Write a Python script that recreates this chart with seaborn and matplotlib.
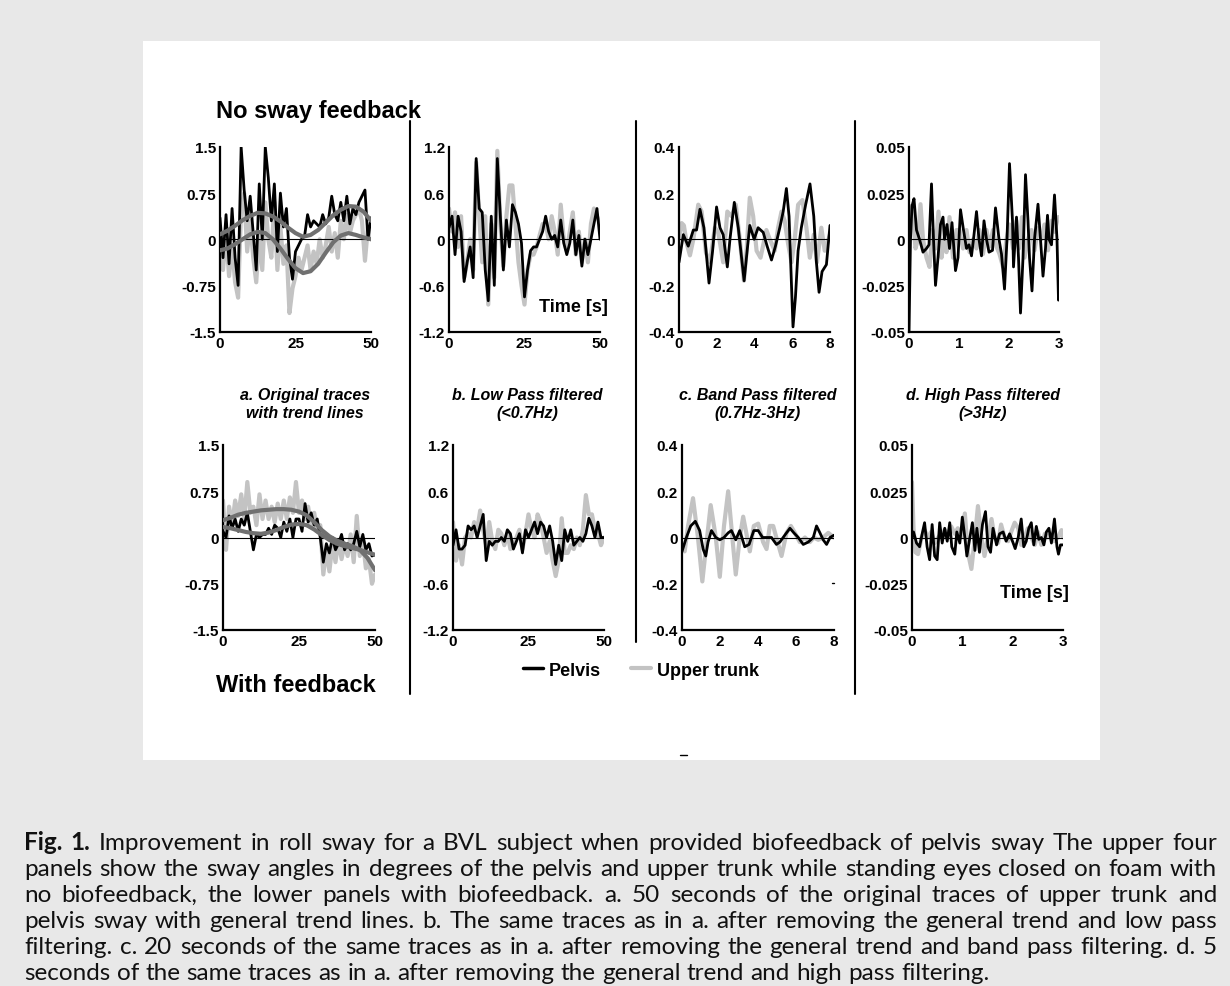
import matplotlib
matplotlib.use("Agg")
import matplotlib.pyplot as plt
import seaborn as sns
from matplotlib.patches import Rectangle
from matplotlib.lines import Line2D

# ---------------------------------------------------------------- data
# a. original traces, 50 s, sampled every second (degrees)
t_orig = [0, 1, 2, 3, 4, 5, 6, 7, 8, 9, 10, 11, 12, 13, 14, 15, 16, 17, 18, 19, 20,
          21, 22, 23, 24, 25, 26, 27, 28, 29, 30, 31, 32, 33, 34, 35, 36, 37, 38, 39,
          40, 41, 42, 43, 44, 45, 46, 47, 48, 49, 50]
a_nofb_pelvis = [0.35, -0.30, 0.40, -0.40, 0.50, -0.30, -0.75, 1.50, 0.80, 0.30, 0.70,
                 0.10, -0.50, 0.90, 0.00, 1.50, 1.00, 0.30, 0.90, -0.20, 0.75, 0.20, 0.50,
                 -0.30, -0.65, -0.20, -0.10, 0.00, 0.05, 0.40, 0.20, 0.30, 0.25, 0.20, 0.40,
                 0.25, 0.35, 0.70, 0.40, 0.30, 0.60, 0.30, 0.70, 0.25, 0.50, 0.40, 0.60,
                 0.70, 0.80, 0.00, 0.35]
a_nofb_upper = [-0.20, -0.50, 0.10, -0.60, -0.10, -0.70, -0.95, 0.50, 0.75, -0.20, 0.30,
                -0.30, -0.70, 0.10, -0.50, 0.60, 0.00, -0.30, 0.60, -0.50, 0.20, -0.40,
                -0.10, -1.20, -0.80, -0.60, -0.30, -0.50, -0.30, -0.10, -0.50, -0.20, -0.40,
                0.00, -0.30, -0.10, 0.20, -0.20, 0.10, -0.30, 0.30, 0.00, 0.40, 0.10, 0.30,
                0.40, 0.50, 0.30, -0.35, 0.20, 0.00]
a_fb_pelvis = [0.10, 0.00, 0.35, 0.15, 0.30, 0.10, 0.30, 0.20, 0.40, 0.10, -0.20, 0.05,
               0.00, 0.05, 0.05, 0.15, 0.05, 0.20, 0.15, 0.00, 0.25, 0.10, 0.30, 0.00, 0.30,
               0.30, 0.10, 0.55, 0.25, 0.40, 0.20, 0.30, 0.00, -0.40, -0.10, -0.25, 0.00,
               -0.20, -0.10, 0.05, -0.20, -0.10, -0.20, -0.10, 0.10, -0.15, 0.05, -0.20,
               -0.10, -0.30, -0.28]
a_fb_upper = [0.60, -0.20, 0.50, 0.20, 0.60, 0.35, 0.70, 0.30, 0.90, 0.40, 0.50, 0.20,
              0.70, 0.30, 0.60, 0.30, 0.50, 0.25, 0.55, 0.30, 0.60, 0.30, 0.65, 0.40, 0.90,
              0.40, 0.60, 0.30, 0.50, 0.20, 0.40, 0.10, 0.20, -0.60, -0.20, -0.55, -0.10,
              -0.40, -0.05, -0.35, -0.10, -0.30, 0.05, -0.40, 0.35, -0.30, -0.05, -0.50,
              -0.35, -0.75, -0.60]

# general trend lines, every 2.5 s
t_trend = [0, 2.5, 5, 7.5, 10, 12.5, 15, 17.5, 20, 22.5, 25, 27.5, 30, 32.5, 35, 37.5,
           40, 42.5, 45, 47.5, 50]
trend_nofb_pelvis = [0.08, 0.14, 0.22, 0.31, 0.38, 0.43, 0.42, 0.37, 0.29, 0.19, 0.10,
                     0.04, 0.07, 0.15, 0.27, 0.39, 0.48, 0.54, 0.53, 0.45, 0.30]
trend_nofb_upper = [-0.18, -0.15, -0.08, 0.00, 0.08, 0.12, 0.10, 0.00, -0.15, -0.32,
                    -0.47, -0.55, -0.52, -0.40, -0.22, -0.05, 0.06, 0.10, 0.07, 0.03, 0.00]
trend_fb_pelvis = [0.17, 0.15, 0.12, 0.09, 0.07, 0.06, 0.08, 0.12, 0.17, 0.21, 0.22, 0.20,
                   0.13, 0.04, -0.04, -0.10, -0.14, -0.17, -0.20, -0.24, -0.28]
trend_fb_upper = [0.28, 0.32, 0.37, 0.40, 0.42, 0.44, 0.45, 0.46, 0.46, 0.45, 0.42, 0.36,
                  0.25, 0.12, 0.02, -0.05, -0.10, -0.14, -0.20, -0.33, -0.53]

# b. low pass filtered (<0.7 Hz), 50 s
b_nofb_pelvis = [0.15, 0.30, -0.20, 0.30, 0.10, -0.55, -0.30, -0.10, -0.50, 1.05, 0.40,
                 0.35, -0.40, -0.80, 0.30, -0.60, 1.05, 0.30, -0.40, 0.25, -0.10, 0.45, 0.35,
                 0.20, -0.05, -0.75, -0.40, -0.15, -0.10, -0.10, 0.00, 0.10, 0.30, 0.10, 0.00,
                 0.05, -0.10, 0.25, -0.05, -0.20, -0.05, 0.25, -0.20, 0.05, -0.35, 0.00,
                 -0.20, 0.00, 0.20, 0.40, 0.00]
b_nofb_upper = [0.40, 0.10, 0.35, -0.10, 0.30, -0.50, -0.30, 0.00, -0.40, 1.00, 0.30,
                -0.30, 0.30, -0.85, 0.20, -0.50, 1.15, 0.20, -0.35, 0.30, 0.70, 0.70, 0.20,
                -0.30, -0.60, -0.85, -0.40, -0.20, -0.20, -0.10, 0.05, 0.20, 0.20, 0.00, 0.30,
                0.10, -0.20, 0.45, 0.00, -0.15, 0.10, 0.35, -0.20, 0.10, -0.30, 0.00, -0.30,
                0.20, 0.40, 0.30, 0.20]
b_fb_pelvis = [-0.10, 0.10, -0.15, -0.15, -0.10, 0.15, 0.10, 0.15, 0.00, 0.15, 0.30,
               -0.30, -0.05, -0.10, -0.05, -0.05, 0.00, -0.05, 0.10, 0.05, -0.15, -0.05,
               0.05, -0.20, 0.10, 0.00, 0.10, 0.20, 0.05, 0.20, 0.15, 0.00, 0.15, -0.05,
               -0.35, -0.10, -0.30, 0.10, -0.05, 0.10, -0.10, -0.05, 0.00, -0.05, 0.05,
               0.25, 0.15, 0.00, 0.20, 0.00, 0.00]
b_fb_upper = [0.20, -0.30, -0.10, -0.35, 0.00, 0.05, 0.00, 0.20, 0.10, 0.35, 0.10, -0.10,
              0.20, -0.05, -0.15, 0.10, 0.05, -0.10, 0.05, -0.15, -0.10, 0.00, 0.10, -0.15,
              0.05, 0.30, 0.10, 0.00, 0.30, 0.20, 0.00, -0.20, -0.05, -0.30, -0.50, -0.30,
              0.25, -0.20, -0.20, -0.10, -0.15, 0.00, -0.10, 0.10, 0.55, 0.30, 0.30, 0.10,
              0.05, -0.10, 0.00]

# c. band pass filtered (0.7-3 Hz), 8 s
c_nofb_pelvis_t = [0.00, 0.23, 0.49, 0.76, 0.93, 1.11, 1.32, 1.59, 1.78, 1.99, 2.17, 2.34,
                   2.56, 2.70, 2.93, 3.14, 3.45, 3.61, 3.75, 3.98, 4.19, 4.46, 4.67, 4.90,
                   5.11, 5.34, 5.52, 5.69, 5.83, 5.96, 6.04, 6.17, 6.31, 6.48, 6.71, 6.94,
                   7.14, 7.28, 7.42, 7.58, 7.81, 8.00]
c_nofb_pelvis = [-0.10, 0.02, -0.03, 0.04, 0.04, 0.13, 0.05, -0.19, -0.05, 0.14, 0.05,
                 0.02, -0.12, 0.00, 0.16, 0.05, -0.18, -0.05, 0.06, 0.00, 0.05, 0.03, -0.03,
                 -0.09, -0.03, 0.05, 0.12, 0.22, 0.10, -0.20, -0.38, -0.25, -0.05, 0.05,
                 0.15, 0.24, 0.10, -0.10, -0.23, -0.14, -0.11, 0.06]
c_nofb_upper_t = [0.00, 0.14, 0.26, 0.41, 0.58, 0.76, 1.02, 1.20, 1.43, 1.64, 1.90, 2.08,
                  2.34, 2.56, 2.78, 3.01, 3.22, 3.44, 3.58, 3.75, 3.93, 4.11, 4.32, 4.63,
                  4.81, 5.07, 5.25, 5.43, 5.60, 5.78, 5.96, 6.13, 6.31, 6.54, 6.75, 6.93,
                  7.14, 7.31, 7.54, 7.72, 8.00]
c_nofb_upper = [0.00, 0.07, 0.06, -0.02, -0.07, 0.00, 0.15, 0.12, -0.06, -0.10, 0.05,
                0.03, -0.10, 0.12, 0.10, 0.15, 0.00, -0.18, -0.05, 0.18, 0.10, -0.05, -0.08,
                0.04, 0.00, -0.05, 0.05, 0.12, 0.08, -0.02, -0.10, 0.00, 0.15, 0.17, 0.05,
                -0.08, 0.02, -0.10, 0.05, -0.05, 0.02]
c_fb_pelvis_t = [0.00, 0.23, 0.46, 0.70, 0.93, 1.11, 1.25, 1.37, 1.55, 1.78, 1.99, 2.21,
                 2.43, 2.60, 2.83, 3.04, 3.30, 3.53, 3.78, 4.01, 4.24, 4.48, 4.71, 4.97,
                 5.15, 5.41, 5.68, 5.89, 6.12, 6.38, 6.64, 6.91, 7.08, 7.26, 7.43, 7.61,
                 7.79, 8.00]
c_fb_pelvis = [-0.06, 0.00, 0.05, 0.07, 0.03, -0.05, -0.08, -0.02, 0.03, 0.00, -0.01,
               0.00, 0.02, 0.03, -0.01, 0.03, -0.04, -0.03, 0.03, 0.03, 0.00, 0.00, 0.00,
               -0.03, -0.02, 0.01, 0.04, 0.02, 0.00, -0.03, -0.02, 0.00, 0.05, 0.02, -0.01,
               -0.03, 0.00, 0.01]
c_fb_upper_t = [0.00, 0.14, 0.32, 0.58, 0.84, 1.07, 1.32, 1.51, 1.78, 1.99, 2.21, 2.43,
                2.65, 2.83, 3.04, 3.22, 3.43, 3.57, 3.78, 4.01, 4.27, 4.45, 4.62, 4.80,
                5.03, 5.24, 5.50, 5.73, 5.94, 6.20, 6.47, 6.73, 6.94, 7.17, 7.43, 7.70, 8.00]
c_fb_upper = [-0.05, -0.06, 0.05, 0.17, 0.00, -0.19, 0.00, 0.14, 0.00, -0.17, 0.05, 0.20,
              0.00, -0.16, 0.00, 0.09, 0.00, -0.06, 0.05, 0.06, -0.02, -0.05, 0.05, 0.05,
              -0.02, -0.08, 0.02, 0.05, 0.02, -0.02, 0.00, -0.02, 0.00, -0.01, 0.00, 0.02,
              0.00]

# d. high pass filtered (>3 Hz), 3 s
d_nofb_pelvis_t = [0.00, 0.03, 0.06, 0.10, 0.15, 0.21, 0.28, 0.35, 0.40, 0.45, 0.49, 0.53,
                   0.58, 0.63, 0.68, 0.71, 0.76, 0.81, 0.86, 0.93, 0.98, 1.03, 1.09, 1.15,
                   1.20, 1.25, 1.29, 1.35, 1.40, 1.45, 1.50, 1.55, 1.60, 1.67, 1.73, 1.80,
                   1.85, 1.91, 1.96, 2.01, 2.07, 2.09, 2.15, 2.19, 2.23, 2.28, 2.33, 2.38,
                   2.41, 2.46, 2.51, 2.58, 2.63, 2.68, 2.73, 2.77, 2.80, 2.85, 2.91, 2.96,
                   2.99, 3.00]
d_nofb_pelvis = [-0.050, 0.000, 0.018, 0.022, 0.005, 0.000, -0.007, -0.005, -0.003, 0.030,
                 0.000, -0.025, -0.010, 0.008, 0.012, 0.000, 0.008, -0.005, 0.009, -0.017,
                 -0.010, 0.016, 0.005, -0.005, -0.003, -0.009, 0.000, 0.015, 0.000, -0.009,
                 0.010, 0.000, -0.007, -0.006, 0.017, 0.000, -0.008, -0.027, 0.000, 0.041,
                 0.010, -0.015, 0.012, -0.010, -0.040, -0.010, 0.035, 0.010, -0.010, -0.028,
                 0.000, 0.019, 0.000, -0.020, -0.005, 0.013, 0.000, -0.003, 0.024, 0.000,
                 -0.033, -0.028]
d_nofb_upper_t = [0.00, 0.03, 0.08, 0.13, 0.18, 0.23, 0.28, 0.35, 0.41, 0.47, 0.53, 0.59,
                  0.65, 0.70, 0.75, 0.81, 0.88, 0.95, 1.01, 1.08, 1.15, 1.21, 1.28, 1.35,
                  1.41, 1.48, 1.55, 1.61, 1.68, 1.75, 1.81, 1.88, 1.95, 2.01, 2.08, 2.15,
                  2.20, 2.26, 2.31, 2.38, 2.45, 2.51, 2.58, 2.65, 2.71, 2.78, 2.85, 2.91,
                  2.98, 3.00]
d_nofb_upper = [0.000, 0.018, 0.012, -0.005, 0.000, 0.019, 0.000, -0.010, -0.015, 0.005,
                -0.005, 0.015, -0.010, 0.000, -0.007, 0.012, -0.010, 0.005, 0.005, -0.005,
                0.005, -0.007, 0.000, -0.005, 0.005, -0.008, 0.005, -0.004, 0.005, -0.004,
                -0.008, -0.015, 0.000, 0.008, -0.005, 0.010, -0.005, 0.012, -0.010, 0.000,
                0.005, -0.006, 0.006, 0.000, 0.008, -0.006, 0.010, 0.004, 0.012, 0.012]
d_fb_pelvis_t = [0.00, 0.03, 0.09, 0.15, 0.21, 0.25, 0.30, 0.35, 0.40, 0.45, 0.50, 0.55,
                 0.60, 0.65, 0.70, 0.75, 0.79, 0.85, 0.89, 0.95, 1.00, 1.05, 1.09, 1.15,
                 1.20, 1.25, 1.29, 1.34, 1.40, 1.46, 1.51, 1.56, 1.61, 1.68, 1.74, 1.81,
                 1.87, 1.94, 2.01, 2.05, 2.11, 2.17, 2.22, 2.27, 2.32, 2.37, 2.42, 2.47,
                 2.52, 2.57, 2.62, 2.67, 2.72, 2.77, 2.83, 2.88, 2.91, 2.95, 3.00]
d_fb_pelvis = [0.000, 0.003, -0.003, -0.005, 0.003, 0.008, -0.005, -0.012, 0.007, -0.010,
               -0.012, 0.008, -0.003, 0.005, -0.002, 0.008, -0.005, -0.009, 0.003, -0.003,
               0.011, 0.000, -0.010, 0.000, 0.008, -0.007, 0.005, -0.008, 0.007, 0.014,
               -0.005, -0.008, 0.005, -0.004, 0.002, 0.003, -0.002, 0.002, -0.003, -0.006,
               0.000, 0.010, -0.005, -0.002, 0.005, 0.008, -0.004, 0.006, -0.001, 0.000,
               -0.004, 0.003, 0.005, -0.003, 0.010, -0.005, -0.009, -0.004, -0.004]
d_fb_upper_t = [0.00, 0.03, 0.07, 0.12, 0.19, 0.25, 0.32, 0.38, 0.45, 0.52, 0.58, 0.65,
                0.72, 0.78, 0.85, 0.91, 0.98, 1.05, 1.11, 1.18, 1.25, 1.31, 1.38, 1.44,
                1.51, 1.58, 1.64, 1.71, 1.77, 1.84, 1.91, 1.97, 2.04, 2.11, 2.17, 2.24,
                2.30, 2.37, 2.44, 2.50, 2.57, 2.64, 2.70, 2.77, 2.83, 2.90, 2.97, 3.00]
d_fb_upper = [0.030, 0.005, -0.008, -0.009, 0.000, 0.004, 0.000, 0.003, -0.003, 0.000,
              0.002, 0.004, 0.002, 0.006, 0.002, 0.005, 0.000, 0.013, -0.008, -0.017,
              0.000, 0.017, 0.000, -0.010, 0.000, 0.010, 0.000, -0.003, 0.007, 0.000,
              -0.002, 0.003, 0.008, 0.005, -0.004, 0.000, 0.005, 0.000, -0.004, 0.003,
              -0.004, 0.002, 0.000, 0.002, -0.002, 0.000, 0.004, 0.000]

# axis scales and labels
x_ticks_50 = [0, 25, 50]
x_ticks_8 = [0, 2, 4, 6, 8]
x_ticks_3 = [0, 1, 2, 3]
y_ticks_a = [-1.5, -0.75, 0, 0.75, 1.5]
y_labels_a = ["-1.5", "-0.75", "0", "0.75", "1.5"]
y_ticks_b = [-1.2, -0.6, 0, 0.6, 1.2]
y_labels_b = ["-1.2", "-0.6", "0", "0.6", "1.2"]
y_ticks_c = [-0.4, -0.2, 0, 0.2, 0.4]
y_labels_c = ["-0.4", "-0.2", "0", "0.2", "0.4"]
y_ticks_d = [-0.05, -0.025, 0, 0.025, 0.05]
y_labels_d = ["-0.05", "-0.025", "0", "0.025", "0.05"]

panel_titles = ["a. Original traces\nwith trend lines", "b. Low Pass filtered\n(<0.7Hz)",
                "c. Band Pass filtered\n(0.7Hz-3Hz)", "d. High Pass filtered\n(>3Hz)"]
series_names = ["Pelvis", "Upper trunk"]

caption_lines = [
    "Fig. 1. Improvement in roll sway for a BVL subject when provided biofeedback of pelvis sway The upper four",
    "panels show the sway angles in degrees of the pelvis and upper trunk while standing eyes closed on foam with",
    "no biofeedback, the lower panels with biofeedback. a. 50 seconds of the original traces of upper trunk and",
    "pelvis sway with general trend lines. b. The same traces as in a. after removing the general trend and low pass",
    "filtering. c. 20 seconds of the same traces as in a. after removing the general trend and band pass filtering. d. 5",
    "seconds of the same traces as in a. after removing the general trend and high pass filtering.",
]

# ---------------------------------------------------------------- style
sns.set_style("white")
plt.rcParams["font.family"] = ["Liberation Sans", "DejaVu Sans"]
plt.rcParams["text.color"] = "black"
plt.rcParams["xtick.color"] = "black"
plt.rcParams["ytick.color"] = "black"
plt.rcParams["axes.labelcolor"] = "black"

PELVIS_C = "#000000"
UPPER_C = "#c3c3c3"
TREND_C = "#707070"

W, H = 1230, 987
fig = plt.figure(figsize=(W / 100, H / 100), dpi=100)
fig.patch.set_facecolor("#e8e8e8")
fig.patches.append(Rectangle((143 / W, 1 - 761 / H), (1100 - 143) / W, (761 - 42) / H,
                             transform=fig.transFigure, facecolor="white",
                             edgecolor="none", zorder=-10))


def px_axes(left, top, right, bottom):
    return fig.add_axes([left / W, 1 - bottom / H, (right - left) / W, (bottom - top) / H])


def draw_panel(ax, tp, vp, tu, vu, xlim, xticks, ylim, yticks, ylabels, trends=()):
    sns.lineplot(x=tu, y=vu, ax=ax, color=UPPER_C, linewidth=3.0, estimator=None,
                 sort=False, zorder=2)
    ax.axhline(0, color="black", linewidth=0.8, zorder=3)
    sns.lineplot(x=tp, y=vp, ax=ax, color=PELVIS_C, linewidth=2.0, estimator=None,
                 sort=False, zorder=4)
    for tt, vv in trends:
        sns.lineplot(x=tt, y=vv, ax=ax, color=TREND_C, linewidth=3.0, estimator=None,
                     sort=False, zorder=5)
    ax.set_xlim(*xlim)
    ax.set_ylim(*ylim)
    ax.set_xticks(xticks, [str(v) for v in xticks])
    ax.set_yticks(yticks, ylabels)
    ax.set_xlabel("")
    ax.set_ylabel("")
    ax.set_facecolor("none")
    sns.despine(ax=ax)
    for side in ("left", "bottom"):
        ax.spines[side].set_linewidth(1.6)
        ax.spines[side].set_color("black")
    ax.tick_params(axis="both", direction="in", length=5.5, width=1.4, pad=3,
                   labelsize=11, colors="black")
    for lab in ax.get_xticklabels() + ax.get_yticklabels():
        lab.set_fontweight("bold")


top_boxes = [(220, 148, 371, 332.5), (449, 148, 600, 332.5), (679, 148, 830, 332.5),
             (909, 148, 1059, 332.5)]
bot_boxes = [(223, 446, 375, 631), (453, 446, 604, 631), (682, 446, 834, 631),
             (912, 446, 1063, 631)]
ax_ta, ax_tb, ax_tc, ax_td = [px_axes(*b) for b in top_boxes]
ax_ba, ax_bb, ax_bc, ax_bd = [px_axes(*b) for b in bot_boxes]

draw_panel(ax_ta, t_orig, a_nofb_pelvis, t_orig, a_nofb_upper, (0, 50), x_ticks_50,
           (-1.5, 1.5), y_ticks_a, y_labels_a,
           trends=[(t_trend, trend_nofb_upper), (t_trend, trend_nofb_pelvis)])
draw_panel(ax_ba, t_orig, a_fb_pelvis, t_orig, a_fb_upper, (0, 50), x_ticks_50,
           (-1.5, 1.5), y_ticks_a, y_labels_a,
           trends=[(t_trend, trend_fb_upper), (t_trend, trend_fb_pelvis)])
draw_panel(ax_tb, t_orig, b_nofb_pelvis, t_orig, b_nofb_upper, (0, 50), x_ticks_50,
           (-1.2, 1.2), y_ticks_b, y_labels_b)
draw_panel(ax_bb, t_orig, b_fb_pelvis, t_orig, b_fb_upper, (0, 50), x_ticks_50,
           (-1.2, 1.2), y_ticks_b, y_labels_b)
draw_panel(ax_tc, c_nofb_pelvis_t, c_nofb_pelvis, c_nofb_upper_t, c_nofb_upper, (0, 8),
           x_ticks_8, (-0.4, 0.4), y_ticks_c, y_labels_c)
draw_panel(ax_bc, c_fb_pelvis_t, c_fb_pelvis, c_fb_upper_t, c_fb_upper, (0, 8),
           x_ticks_8, (-0.4, 0.4), y_ticks_c, y_labels_c)
draw_panel(ax_td, d_nofb_pelvis_t, d_nofb_pelvis, d_nofb_upper_t, d_nofb_upper, (0, 3),
           x_ticks_3, (-0.05, 0.05), y_ticks_d, y_labels_d)
draw_panel(ax_bd, d_fb_pelvis_t, d_fb_pelvis, d_fb_upper_t, d_fb_upper, (0, 3),
           x_ticks_3, (-0.05, 0.05), y_ticks_d, y_labels_d)

# axis annotations
ax_tb.text(1.05, 0.135, "Time [s]", transform=ax_tb.transAxes, ha="right", va="center",
           fontsize=13, fontweight="bold")
ax_bd.text(1.04, 0.205, "Time [s]", transform=ax_bd.transAxes, ha="right", va="center",
           fontsize=13, fontweight="bold")


def fig_text(x, y, s, **kw):
    fig.text(x / W, 1 - y / H, s, **kw)


fig_text(216, 112, "No sway feedback", ha="left", va="center", fontsize=17,
         fontweight="bold")
fig_text(216, 685, "With feedback", ha="left", va="center", fontsize=17,
         fontweight="bold")

for cx, title in zip([305, 527, 758, 983], panel_titles):
    fig_text(cx, 405, title, ha="center", va="center", fontsize=11.5,
             fontweight="bold", fontstyle="italic", linespacing=1.25)

# separators between the panel columns
for x, y0, y1 in [(410, 122, 695), (636, 122, 643), (855, 122, 695)]:
    fig.add_artist(Line2D([x / W, x / W], [1 - y0 / H, 1 - y1 / H], color="black",
                          linewidth=1.5, transform=fig.transFigure))
fig.add_artist(Line2D([680 / W, 687 / W], [1 - 756 / H, 1 - 756 / H], color="black",
                      linewidth=1.0, transform=fig.transFigure))
fig.add_artist(Line2D([832 / W, 834 / W], [1 - 584 / H, 1 - 584 / H], color="black",
                      linewidth=1.0, transform=fig.transFigure))

# legend
handles = [Line2D([], [], color=PELVIS_C, linewidth=2.5),
           Line2D([], [], color=UPPER_C, linewidth=3.0)]
fig.legend(handles, series_names, loc="center", bbox_to_anchor=(641 / W, 1 - 671 / H),
           ncol=2, frameon=False, handlelength=1.1, handletextpad=0.3,
           columnspacing=1.7, prop={"size": 13, "weight": "bold"})

# justified caption
renderer = fig.canvas.get_renderer()
CAP_FONT = ["Lato", "DejaVu Sans"]
left_px, right_px = 24, 1217
baselines = [850, 876, 902, 928, 954, 980]


def word_width(s, size, weight):
    t = fig.text(0, 0, s, fontsize=size, family=CAP_FONT, fontweight=weight)
    w = t.get_window_extent(renderer).width
    t.remove()
    return w


def line_words(i, line):
    words = line.split(" ")
    weights = ["normal"] * len(words)
    if i == 0:
        weights[0] = weights[1] = "bold"
    return words, weights


def widest_line(size):
    sp = word_width("a a", size, "normal") - word_width("aa", size, "normal")
    widest = 0
    for i, line in enumerate(caption_lines[:-1]):
        words, weights = line_words(i, line)
        natural = sum(word_width(w, size, wt) for w, wt in zip(words, weights))
        widest = max(widest, natural + sp * (len(words) - 1))
    return widest


base = 13.5
size = base * (right_px - left_px) * 0.985 / widest_line(base)
space_w = word_width("a a", size, "normal") - word_width("aa", size, "normal")

for i, line in enumerate(caption_lines):
    words, weights = line_words(i, line)
    widths = [word_width(w, size, wt) for w, wt in zip(words, weights)]
    if i < len(caption_lines) - 1:
        gap = (right_px - left_px - sum(widths)) / (len(words) - 1)
    else:
        gap = space_w
    x = left_px
    for w, wt, ww in zip(words, weights, widths):
        fig.text(x / W, 1 - baselines[i] / H, w, fontsize=size, family=CAP_FONT,
                 fontweight=wt, va="baseline", ha="left", color="#111111")
        x += ww + gap

fig.savefig("out.png", dpi=100, facecolor=fig.get_facecolor())
